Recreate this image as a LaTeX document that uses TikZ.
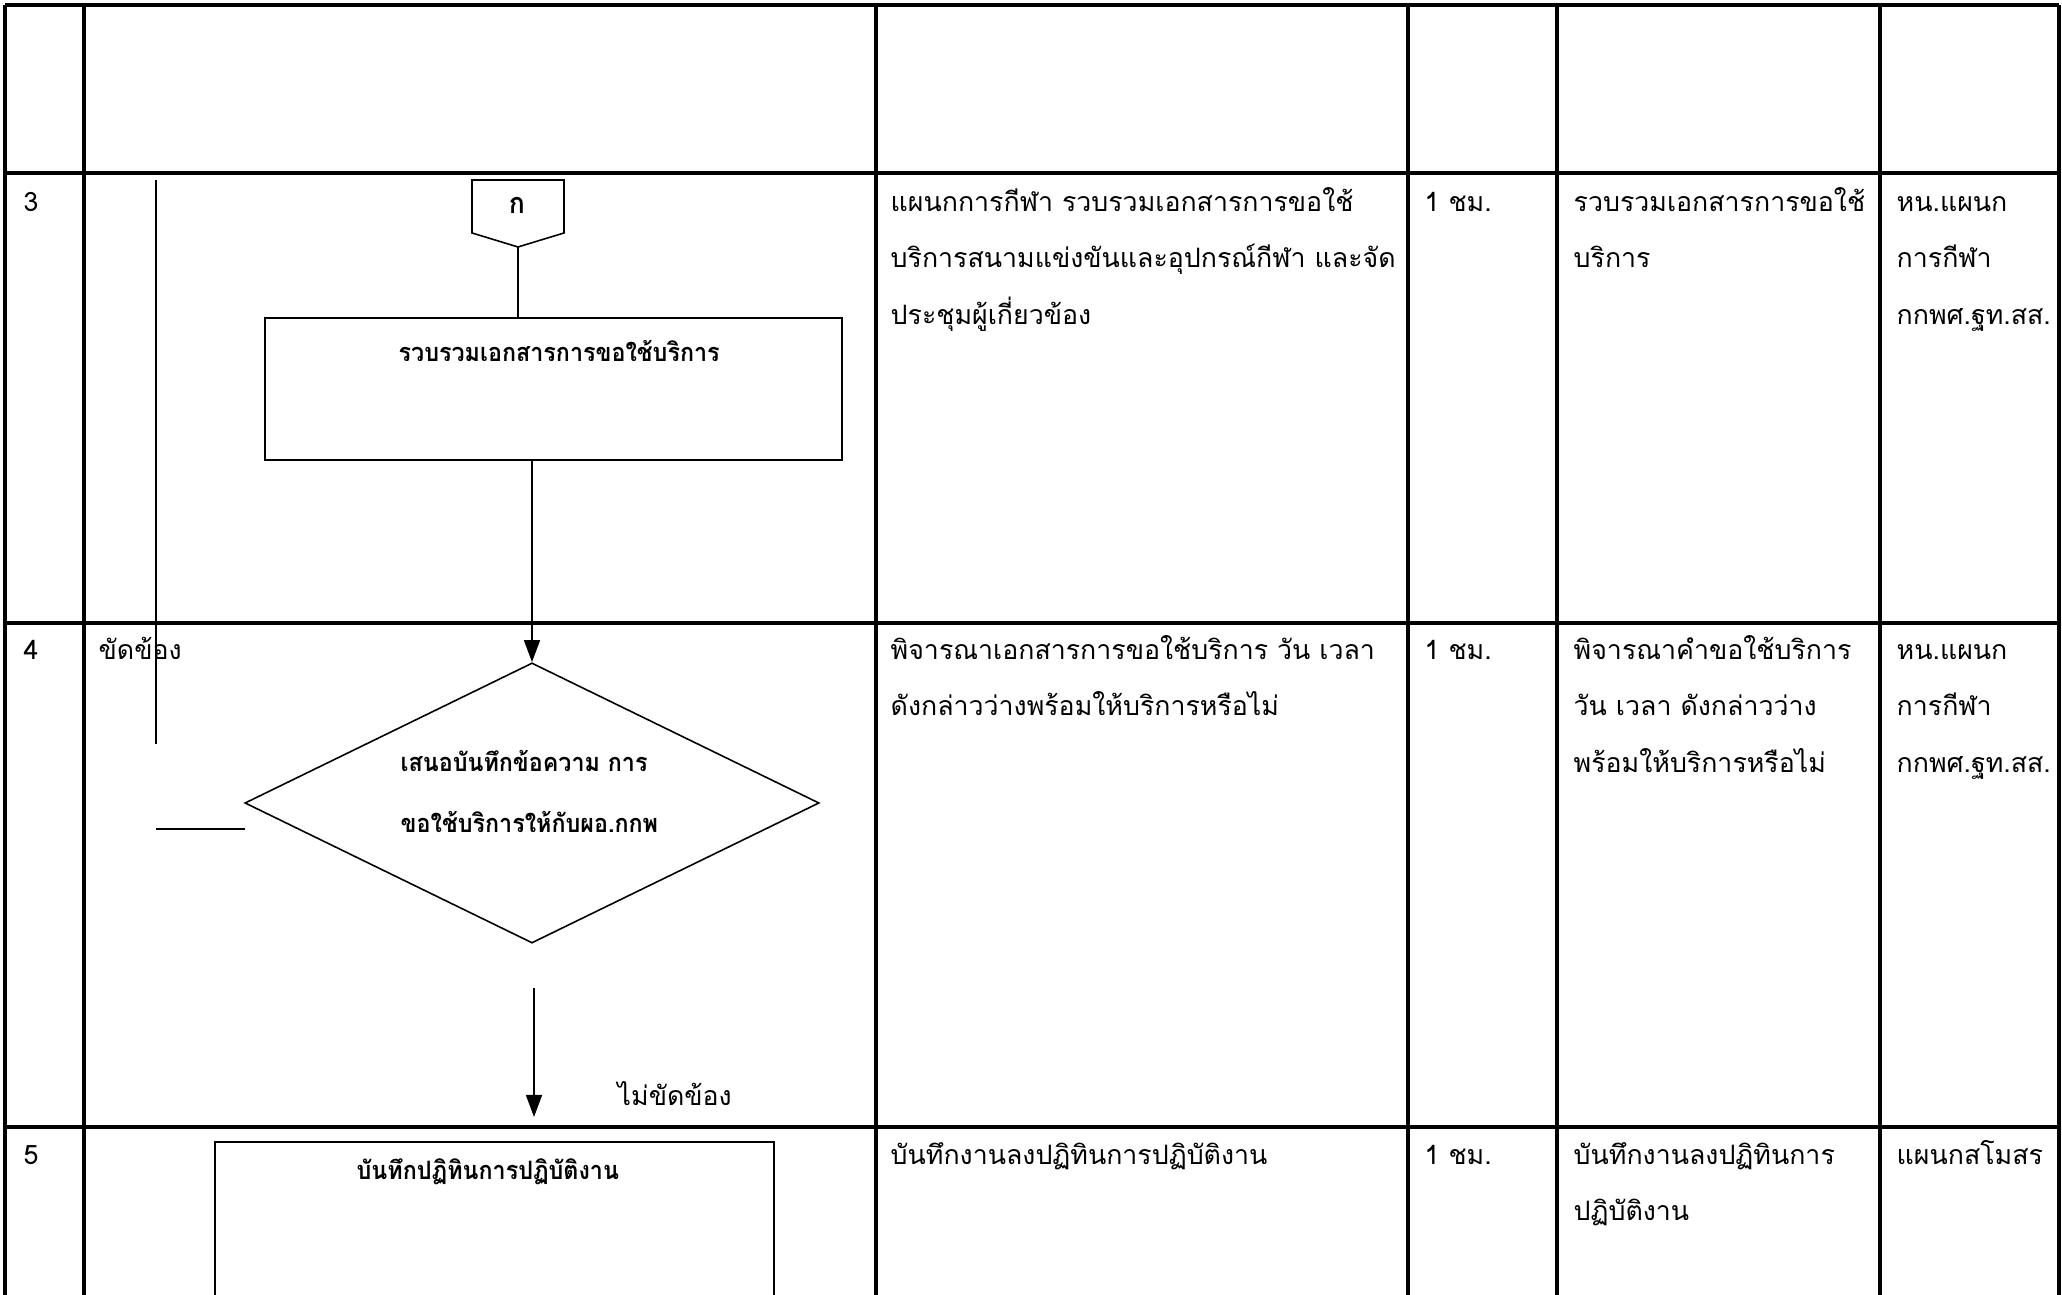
\documentclass[tikz,border=0pt]{standalone}
\usepackage{fontspec}
\setmainfont{Loma}[Script=Thai]
\newfontfamily\thaiB[Script=Thai,FakeStretch=0.92]{Loma}
\usetikzlibrary{arrows.meta,shapes.geometric}
\begin{document}
\begin{tikzpicture}[x=0.01cm,y=-0.01cm,
  tbl/.style={line width=0.9pt},
  flow/.style={line width=0.45pt},
  arr/.style={line width=0.45pt,-{Triangle[length=0.22cm,width=0.16cm]}},
  pbox/.style={draw,line width=0.6pt,rectangle,inner sep=0pt},
  cell/.style={anchor=base west,inner sep=0pt,font=\fontsize{7.6}{9}\selectfont},
  btxt/.style={anchor=base west,inner sep=0pt,font=\thaiB\fontsize{7.2}{8}\selectfont\bfseries}]
\useasboundingbox (0,0) rectangle (2062,1295);
\fill[white] (0,0) rectangle (2062,1295);
\clip (0,0) rectangle (2062,1295);
% table grid
\draw[tbl] (5,5) -- (2059,5);
\draw[tbl] (5,173) -- (2059,173);
\draw[tbl] (5,623) -- (2059,623);
\draw[tbl] (5,1127) -- (2059,1127);
\foreach \xx in {5,84,876,1408,1557,1880,2059}{\draw[tbl] (\xx,5) -- (\xx,1300);}
% row 3 flow
\draw[flow] (472,180) -- (564,180) -- (564,233) -- (518,247) -- (472,233) -- cycle;
\coordinate (ktip) at (518,247);
\node[btxt,anchor=base,font=\thaiB\fontsize{8.2}{9}\selectfont\bfseries] (klbl) at (517,214) {ก};
\node[pbox,minimum width=5.77cm,minimum height=1.42cm] (b3) at (553.5,389) {};
\node[btxt] (b3t) at (398,362) {รวบรวมเอกสารการขอใช้บริการ};
\draw[flow] (ktip) -- (ktip |- b3.north);
\coordinate (lt) at (156,180);
\coordinate (lb) at (156,744);
\draw[flow] (lt) -- (lb);
% row 4 flow
\node[draw,diamond,line width=0.45pt,minimum width=5.74cm,minimum height=2.8cm,inner sep=0pt] (d4) at (532,803) {};
\draw[arr] (b3.south -| d4.north) -- (d4.north);
\node[btxt] (d4t1) at (400,772) {เสนอบันทึกข้อความ การ};
\node[btxt] (d4t2) at (400,833) {ขอใช้บริการให้กับผอ.กกพ};
\coordinate (hl) at (156,829);
\coordinate (hr) at (245,829);
\draw[flow] (hl) -- (hr);
\coordinate (n1) at (534,988);
\coordinate (n2) at (534,1117);
\draw[arr] (n1) -- (n2);
\node[cell] (nolbl) at (617,1106) {ไม่ขัดข้อง};
\node[cell] (yeslbl) at (98,660) {ขัดข้อง};
% row 5 flow
\node[pbox,minimum width=5.59cm,minimum height=3cm,anchor=north] (b5) at (494.5,1141) {};
\node[btxt] (b5t) at (356,1180) {บันทึกปฏิทินการปฏิบัติงาน};
% row numbers
\node[cell] (n3) at (23,212) {3};
\node[cell] (n4) at (23,660) {4};
\node[cell] (n5) at (23,1165) {5};
% row 3 cells
\node[cell] (r3c1) at (890,212) {แผนกการกีฬา รวบรวมเอกสารการขอใช้};
\node[cell] (r3c2) at (890,268) {บริการสนามแข่งขันและอุปกรณ์กีฬา และจัด};
\node[cell] (r3c3) at (890,325) {ประชุมผู้เกี่ยวข้อง};
\node[cell] (r3t) at (1424,212) {1 ชม.};
\node[cell] (r3d1) at (1573,212) {รวบรวมเอกสารการขอใช้};
\node[cell] (r3d2) at (1573,268) {บริการ};
\node[cell] (r3e1) at (1896,212) {หน.แผนก};
\node[cell] (r3e2) at (1896,268) {การกีฬา};
\node[cell] (r3e3) at (1896,325) {กกพศ.ฐท.สส.};
% row 4 cells
\node[cell] (r4c1) at (890,660) {พิจารณาเอกสารการขอใช้บริการ วัน เวลา};
\node[cell] (r4c2) at (890,716) {ดังกล่าวว่างพร้อมให้บริการหรือไม่};
\node[cell] (r4t) at (1424,660) {1 ชม.};
\node[cell] (r4d1) at (1573,660) {พิจารณาคำขอใช้บริการ};
\node[cell] (r4d2) at (1573,716) {วัน เวลา ดังกล่าวว่าง};
\node[cell] (r4d3) at (1573,773) {พร้อมให้บริการหรือไม่};
\node[cell] (r4e1) at (1896,660) {หน.แผนก};
\node[cell] (r4e2) at (1896,716) {การกีฬา};
\node[cell] (r4e3) at (1896,773) {กกพศ.ฐท.สส.};
% row 5 cells
\node[cell] (r5c1) at (890,1165) {บันทึกงานลงปฏิทินการปฏิบัติงาน};
\node[cell] (r5t) at (1424,1165) {1 ชม.};
\node[cell] (r5d1) at (1573,1165) {บันทึกงานลงปฏิทินการ};
\node[cell] (r5d2) at (1573,1221) {ปฏิบัติงาน};
\node[cell] (r5e1) at (1896,1165) {แผนกสโมสร};
\end{tikzpicture}
\end{document}
